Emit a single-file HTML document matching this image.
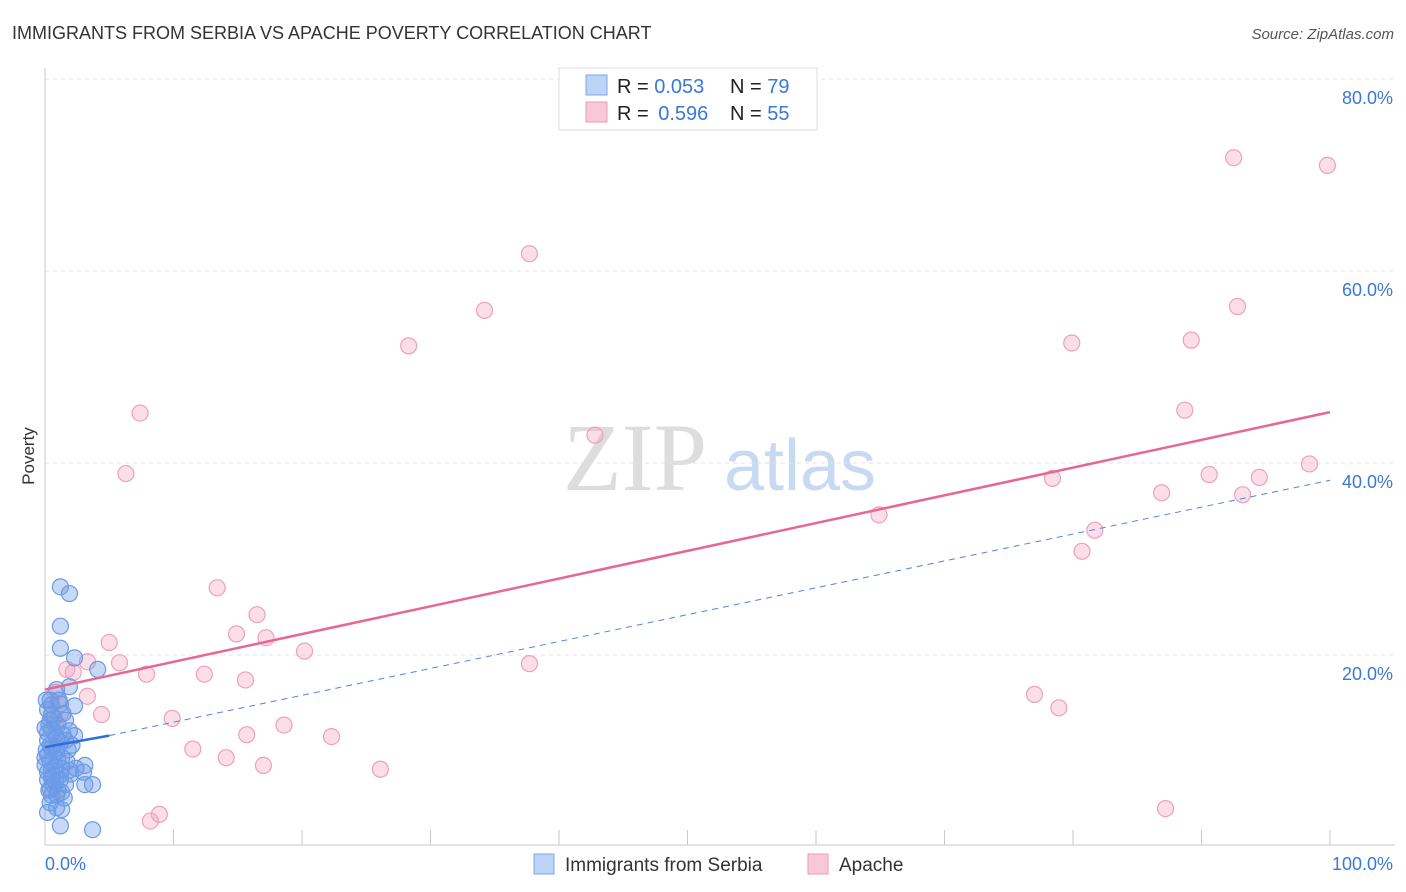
<!DOCTYPE html>
<html><head><meta charset="utf-8"><style>
body{margin:0;background:#fff;font-family:"Liberation Sans",sans-serif}
svg{display:block}
</style></head><body>
<svg id="chart" width="1406" height="892">
<text x="12" y="39" font-size="18" fill="#333">IMMIGRANTS FROM SERBIA VS APACHE POVERTY CORRELATION CHART</text>
<text x="1394" y="39" font-size="15" font-style="italic" fill="#555" text-anchor="end">Source: ZipAtlas.com</text>
<text x="34" y="456" font-size="17" fill="#333" text-anchor="middle" transform="rotate(-90 34 456)">Poverty</text>
<g>
<text x="635" y="490" font-size="96" font-family="Liberation Serif,serif" fill="#ddd" text-anchor="middle">ZIP</text>
<text x="800" y="490" font-size="72" fill="#c8d9f2" text-anchor="middle">atlas</text>
</g>
<g id="grid"></g>
<g id="axes"></g>
<g id="marks"></g>
<g>
<rect x="559" y="68" width="258" height="62" fill="#fff" stroke="#ddd"/>
<rect x="586" y="75" width="21" height="20" fill="#bcd4f6" stroke="#7aa7e8"/>
<rect x="586" y="102" width="21" height="20" fill="#f9c8d8" stroke="#ee9ab6"/>
<text x="617" y="93" font-size="20" fill="#222">R = <tspan fill="#3a78d8">0.053</tspan></text>
<text x="730" y="93" font-size="20" fill="#222">N = <tspan fill="#3a78d8">79</tspan></text>
<text x="617" y="120" font-size="20" fill="#222">R = <tspan fill="#3a78d8" dx="4">0.596</tspan></text>
<text x="730" y="120" font-size="20" fill="#222">N = <tspan fill="#3a78d8">55</tspan></text>
</g>
<g>
<rect x="534" y="854" width="20" height="20" fill="#bcd4f6" stroke="#7aa7e8"/>
<text x="565" y="871" font-size="19" fill="#333">Immigrants from Serbia</text>
<rect x="808" y="854" width="20" height="20" fill="#f9c8d8" stroke="#ee9ab6"/>
<text x="839" y="871" font-size="19" fill="#333">Apache</text>
</g>
</svg>
<script>
const xTicks=[0,10,20,30,40,50,60,70,80,90,100];
const yTicks=[20,40,60,80];
const yTickLabels=["20.0%","40.0%","60.0%","80.0%"];
const xEndLabels=["0.0%","100.0%"];
const serbiaX=[1.2,1.9,1.2,1.2,2.3,4.1,1.9,0.9,0.4,1.2,2.3,1.4,0.4,0.5,1.9,2.3,0.2,1.2,2.1,0.5,0.9,0.2,1.3,0.4,1.7,3.1,0.8,1.9,0.2,1.2,0.5,3.0,0.8,1.6,3.1,3.7,0.4,1.0,1.3,0.5,0.9,1.3,1.2,3.7,0.2,0.8,1.6,0.4,1.0,0,0.5,1.3,0.2,0.6,0.9,0.3,0.2,0.5,0.7,0.1,1.0,1.6,0.3,0.6,1.2,0,0.9,1.8,0.1,0.5,0,1.4,1.1,2.4,1.5,0.4,0.2,2.0,0.9];
const serbiaY=[27.1,26.4,23.0,20.7,19.7,18.5,16.7,16.4,15.3,14.9,14.7,13.9,13.2,12.2,12.1,11.6,11.1,10.9,10.6,10.3,9.9,9.6,9.3,8.9,8.9,8.5,8.4,8.0,7.8,7.5,7.2,7.8,6.8,6.5,6.5,6.5,6.1,5.9,5.7,5.4,4.1,3.9,2.2,1.8,14.3,11.7,11.1,10.6,9.1,8.5,8.0,8.2,7.0,6.5,5.4,12.7,11.9,13.8,13.4,10.1,12.7,13.2,5.9,7.5,7.0,9.3,10.3,10.1,15.3,14.8,12.4,11.7,15.3,8.2,5.1,4.6,3.6,7.6,11.4];
const apacheX=[92.5,99.8,37.7,34.2,92.8,28.3,79.9,89.2,7.4,88.7,42.8,6.3,78.4,86.9,90.6,94.5,98.4,93.2,64.9,81.7,80.7,13.4,16.5,5.0,14.9,17.2,20.2,5.8,3.3,1.7,2.2,37.7,7.9,12.4,15.6,0.8,3.3,4.4,9.9,18.6,22.3,15.7,11.5,14.1,17.0,26.1,77.0,78.9,8.9,8.2,87.2,1.0,0.5,1.2,0.8];
const apacheY=[71.8,71.0,61.8,55.9,56.3,52.2,52.5,52.8,45.2,45.5,42.9,38.9,38.4,36.9,38.8,38.5,39.9,36.7,34.6,33.0,30.8,27.0,24.2,21.3,22.2,21.8,20.4,19.2,19.3,18.5,18.2,19.1,18.0,18.0,17.4,16.1,15.7,13.8,13.4,12.7,11.5,11.7,10.2,9.3,8.5,8.1,15.9,14.5,3.4,2.7,4.0,15.3,14.8,13.9,13.0];
const serbiaTrend=[10.4,11.6,38.2];
const apacheTrend=[16.4,45.3];
const NS="http://www.w3.org/2000/svg";
const X0=45,X1=1330,Y0=847,YPX=9.6;
function sx(v){return X0+(X1-X0)*v/100;}
function sy(v){return Y0-v*YPX;}
function mk(tag,attrs,parent){const e=document.createElementNS(NS,tag);for(const k in attrs)e.setAttribute(k,attrs[k]);parent.appendChild(e);return e;}
const grid=document.getElementById('grid'),axes=document.getElementById('axes'),marks=document.getElementById('marks');
yTicks.forEach((t,i)=>{
 const l=mk('line',{x1:45,x2:1395,y1:sy(t),y2:sy(t),stroke:'#e2e2e2','stroke-dasharray':'4,4'},grid);
 
 
 const tx=mk('text',{x:1393,y:sy(t)+25,'font-size':18,fill:'#3a78d8','text-anchor':'end'},grid);
 tx.textContent=yTickLabels[i];
 
 
});
const ya=mk('line',{x1:45,x2:45,y1:68,y2:845,stroke:'#c8c8c8'},axes);


const xa=mk('line',{x1:45,x2:1395,y1:845,y2:845,stroke:'#c8c8c8'},axes);


xTicks.forEach(t=>{
 const l=mk('line',{x1:sx(t),x2:sx(t),y1:830,y2:845,stroke:'#c8c8c8'},axes);
 
 
});
const xl0=mk('text',{x:45,y:870,'font-size':18,fill:'#3a78d8'},axes);
xl0.textContent=xEndLabels[0];


const xl1=mk('text',{x:1393,y:870,'font-size':18,fill:'#3a78d8','text-anchor':'end'},axes);
xl1.textContent=xEndLabels[1];


apacheX.forEach((v,i)=>{
 const c=mk('circle',{cx:sx(v),cy:sy(apacheY[i]),r:8,fill:'rgba(244,160,188,0.35)',stroke:'#eea0bb','stroke-width':1.2},marks);
 
 
});
serbiaX.forEach((v,i)=>{
 const c=mk('circle',{cx:sx(v),cy:sy(serbiaY[i]),r:8,fill:'rgba(110,156,232,0.38)',stroke:'#6a9ae6','stroke-width':1.2},marks);
 
 
});
const bd=mk('line',{x1:sx(5),y1:sy(serbiaTrend[1]),x2:sx(100),y2:sy(serbiaTrend[2]),stroke:'#4f86dc','stroke-width':1,'stroke-dasharray':'6,5'},marks);


const bs=mk('line',{x1:sx(0),y1:sy(serbiaTrend[0]),x2:sx(5),y2:sy(serbiaTrend[1]),stroke:'#2e6fd8','stroke-width':2.5},marks);


const pl=mk('line',{x1:sx(0),y1:sy(apacheTrend[0]),x2:sx(100),y2:sy(apacheTrend[1]),stroke:'#e8678f','stroke-width':2.5},marks);


</script>
</body></html>
